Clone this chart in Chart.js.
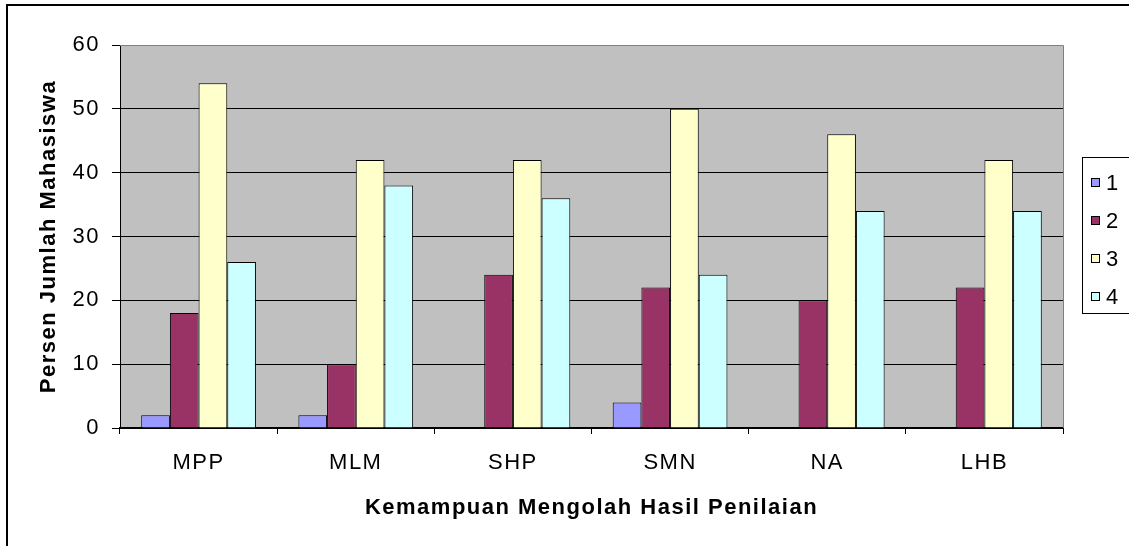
<!DOCTYPE html>
<html>
<head>
<meta charset="utf-8">
<script src="https://cdn.jsdelivr.net/npm/chart.js@4/dist/chart.umd.min.js"></script>
<style>
  body { margin: 0; background: #fff; }
  #wrap { width: 1129px; height: 546px; }
</style>
</head>
<body>
<div id="wrap"><canvas id="grafico" width="1129" height="546"></canvas></div>
<script>
// data
const kategori = ['MPP', 'MLM', 'SHP', 'SMN', 'NA', 'LHB'];
const seri1 = [2, 2, 0, 4, 0, 0];
const seri2 = [18, 10, 24, 22, 20, 22];
const seri3 = [54, 42, 42, 50, 46, 42];
const seri4 = [26, 38, 36, 24, 34, 34];
const labelSeri = ['1', '2', '3', '4'];
const warna = ['#9999FF', '#993366', '#FFFFCC', '#CCFFFF'];
const tickY = [0, 10, 20, 30, 40, 50, 60];

const huruf = 'Liberation Sans, Arial, sans-serif';
const ukuran = 22;

// spasi huruf sedikit lebar spt excel
const spasiHuruf = {
  id: 'spasiHuruf',
  beforeLayout(chart) { chart.ctx.letterSpacing = '1.5px'; },
  beforeDraw(chart) { chart.ctx.letterSpacing = '1.5px'; }
};

// background abu-abu + garis tepi
const latarPlot = {
  id: 'latarPlot',
  beforeDraw(chart) {
    const { ctx, chartArea: a } = chart;
    ctx.save();
    ctx.fillStyle = '#C0C0C0';
    ctx.fillRect(a.left, a.top, a.right - a.left, a.bottom - a.top);
    ctx.restore();
  },
  afterDraw(chart) {
    const { ctx, chartArea: a } = chart;
    ctx.save();
    ctx.strokeStyle = '#808080';
    ctx.lineWidth = 1;
    ctx.beginPath();
    ctx.moveTo(a.left, a.top + 0.5);
    ctx.lineTo(a.right + 0.5, a.top + 0.5);
    ctx.lineTo(a.right + 0.5, a.bottom);
    ctx.stroke();
    // bingkai luar
    ctx.strokeStyle = '#000';
    ctx.lineWidth = 2;
    ctx.beginPath();
    ctx.moveTo(7, 560);
    ctx.lineTo(7, 5);
    ctx.lineTo(1140, 5);
    ctx.stroke();
    ctx.restore();
  }
};

// legenda kanan
const legendaKotak = {
  id: 'legendaKotak',
  afterDraw(chart) {
    const ctx = chart.ctx;
    ctx.save();
    ctx.strokeStyle = '#000';
    ctx.lineWidth = 1;
    ctx.fillStyle = '#fff';
    ctx.fillRect(1082.5, 157.5, 60, 156);
    ctx.strokeRect(1082.5, 157.5, 60, 156);
    ctx.font = ukuran + 'px ' + huruf;
    ctx.textBaseline = 'middle';
    chart.data.datasets.forEach(function (ds, i) {
      const y = 183 + i * 38;
      ctx.fillStyle = ds.backgroundColor;
      ctx.fillRect(1091.5, y - 4.5, 8, 8);
      ctx.strokeRect(1091.5, y - 4.5, 8, 8);
      ctx.fillStyle = '#000';
      ctx.fillText(ds.label, 1106, y + 1);
    });
    ctx.restore();
  }
};

const semuaSeri = [seri1, seri2, seri3, seri4];

new Chart(document.getElementById('grafico'), {
  type: 'bar',
  data: {
    labels: kategori,
    datasets: semuaSeri.map(function (d, i) {
      return {
        label: labelSeri[i],
        data: d,
        backgroundColor: warna[i],
        borderColor: '#000',
        borderWidth: 1,
        categoryPercentage: 0.73,
        barPercentage: 1
      };
    })
  },
  options: {
    responsive: false,
    animation: false,
    layout: { padding: { top: 45, right: 66, left: 0, bottom: 0 } },
    plugins: {
      legend: { display: false },
      tooltip: { enabled: false }
    },
    scales: {
      x: {
        afterFit: function (s) { s.height = 118; },
        grid: {
          offset: true,
          drawOnChartArea: false,
          drawTicks: true,
          tickLength: 6,
          color: '#000'
        },
        border: { color: '#000', width: 2 },
        ticks: {
          color: '#000',
          padding: 16,
          font: { family: huruf, size: ukuran }
        },
        title: {
          display: true,
          text: 'Kemampuan Mengolah Hasil Penilaian',
          color: '#000',
          padding: { top: 0, bottom: 25 },
          font: { family: huruf, size: ukuran, weight: 'bold' }
        }
      },
      y: {
        min: 0,
        max: 60,
        afterFit: function (s) { s.width = 120; },
        afterBuildTicks: function (s) { s.ticks = tickY.map(function (v) { return { value: v }; }); },
        grid: {
          color: function (c) { return c.tick && c.tick.value === 60 ? '#808080' : '#000'; },
          lineWidth: 1,
          drawTicks: true,
          tickLength: 8,
          tickColor: '#000'
        },
        border: { color: '#000', width: 1 },
        ticks: {
          color: '#000',
          padding: 12,
          font: { family: huruf, size: ukuran }
        },
        title: {
          display: true,
          text: 'Persen Jumlah Mahasiswa',
          color: '#000',
          padding: { top: 36, bottom: 0 },
          font: { family: huruf, size: ukuran, weight: 'bold' }
        }
      }
    }
  },
  plugins: [spasiHuruf, latarPlot, legendaKotak]
});
</script>
</body>
</html>
